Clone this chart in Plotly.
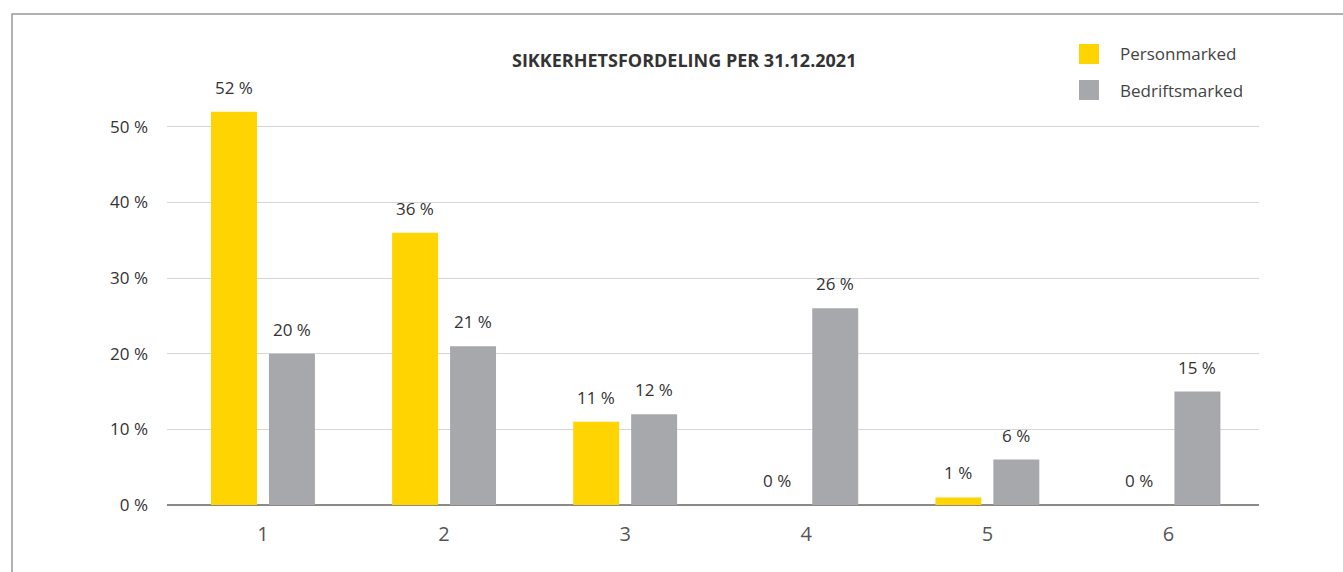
import plotly.graph_objects as go

# Security distribution per category, share of portfolio (%)
categories = ["1", "2", "3", "4", "5", "6"]
personmarked = [52, 36, 11, 0, 1, 0]
bedriftsmarked = [20, 21, 12, 26, 6, 15]
y_ticks = [0, 10, 20, 30, 40, 50]
y_tick_labels = ["0 %", "10 %", "20 %", "30 %", "40 %", "50 %"]

title_text = "SIKKERHETSFORDELING PER 31.12.2021"
series_names = ["Personmarked", "Bedriftsmarked"]
colors = ["#FFD400", "#A7A8AC"]

FONT = "'Open Sans', Lato, sans-serif"
TEXT_DARK = "#333333"

fig = go.Figure()
for name, vals, col in zip(series_names, [personmarked, bedriftsmarked], colors):
    fig.add_trace(go.Bar(
        x=categories, y=vals, name=name, marker=dict(color=col, line=dict(width=0)),
        showlegend=False, hoverinfo="x+y+name",
    ))

# Value labels above each bar (category index positions on the x axis)
for offset, vals in zip([-29, 29], [personmarked, bedriftsmarked]):
    for i, v in enumerate(vals):
        fig.add_annotation(
            x=i, y=v, text=f"{v} %", showarrow=False, xshift=offset, yshift=11,
            yanchor="bottom", font=dict(family=FONT, size=17, color=TEXT_DARK),
        )

# Title
fig.add_annotation(
    xref="paper", yref="paper", x=(684 - 167) / 1092, y=(505 - 60) / 416,
    text=f"<b>{title_text}</b>", showarrow=False, xanchor="center", yanchor="middle",
    font=dict(family=FONT, size=18, color=TEXT_DARK),
)

# Legend: colour squares with labels
for i, (name, col) in enumerate(zip(series_names, colors)):
    yc = 54 + i * 36
    fig.add_shape(
        type="rect", xref="paper", yref="paper",
        x0=(1079 - 167) / 1092, x1=(1099 - 167) / 1092,
        y0=(505 - (yc + 10)) / 416, y1=(505 - (yc - 10)) / 416,
        fillcolor=col, line=dict(width=0),
    )
    fig.add_annotation(
        xref="paper", yref="paper", x=(1118 - 167) / 1092, y=(505 - yc) / 416,
        text=name, showarrow=False, xanchor="left", yanchor="middle",
        font=dict(family=FONT, size=17, color="#444444"),
    )

# Outer frame (top and left edges)
fig.add_shape(
    type="path", xref="paper", yref="paper",
    path=f"M {(12 - 167) / 1092},{(505 - 600) / 416} L {(12 - 167) / 1092},{(505 - 14) / 416} "
         f"L {(1360 - 167) / 1092},{(505 - 14) / 416}",
    line=dict(color="#999999", width=1.5),
)

fig.update_layout(
    width=1343, height=572,
    margin=dict(l=167, r=84, t=89, b=67),
    paper_bgcolor="white", plot_bgcolor="white",
    barmode="group", bargap=0.36, bargroupgap=0.207,
    font=dict(family=FONT, color=TEXT_DARK),
)
fig.update_xaxes(
    type="category", range=[-0.53, 5.5], showgrid=False, zeroline=False,
    showline=False, ticks="", ticklabelstandoff=15,
    tickfont=dict(family=FONT, size=20, color="#555555"),
)
fig.update_yaxes(
    range=[0, 55], tickvals=y_ticks, ticktext=y_tick_labels,
    showgrid=True, gridcolor="#D6D6D6", gridwidth=1,
    zeroline=True, zerolinecolor="#8A8A8A", zerolinewidth=1.5,
    showline=False, ticks="", ticklabelstandoff=18,
    tickfont=dict(family=FONT, size=17, color=TEXT_DARK),
)

fig.write_html("out.html")
